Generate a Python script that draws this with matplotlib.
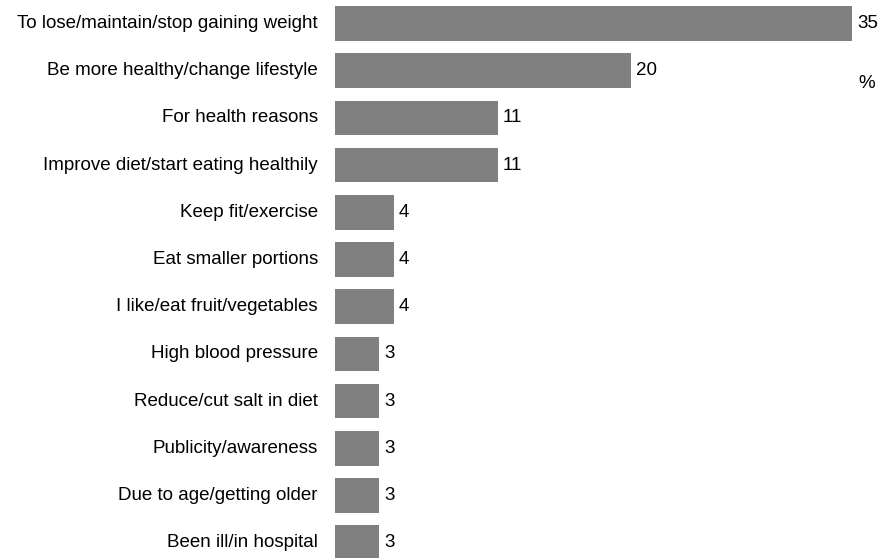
import matplotlib
matplotlib.use("Agg")
import matplotlib.pyplot as plt

plt.rcParams['font.family'] = ['Liberation Sans', 'DejaVu Sans']

categories = [
    "To lose/maintain/stop gaining weight",
    "Be more healthy/change lifestyle",
    "For health reasons",
    "Improve diet/start eating healthily",
    "Keep fit/exercise",
    "Eat smaller portions",
    "I like/eat fruit/vegetables",
    "High blood pressure",
    "Reduce/cut salt in diet",
    "Publicity/awareness",
    "Due to age/getting older",
    "Been ill/in hospital",
]
values = [35, 20, 11, 11, 4, 4, 4, 3, 3, 3, 3, 3]
unit_label = "%"

W, H = 881, 558
fig = plt.figure(figsize=(W / 100, H / 100), dpi=100)

left_px = 335
ax = fig.add_axes([left_px / W, 0, 1 - left_px / W, 1])
px_per_unit = 14.78
ax.set_xlim(0, (W - left_px) / px_per_unit)

spacing = 47.2
first_center = 23.5
top = -first_center / spacing
bottom = top + H / spacing
ax.set_ylim(bottom, top)

ypos = list(range(len(categories)))
ax.barh(ypos, values, height=34.5 / spacing, color="#808080", edgecolor="none")

fs = 13.5
for y, v, c in zip(ypos, values, categories):
    # value at the end of each bar
    ax.annotate(str(v), xy=(v, y), xycoords="data", xytext=(5, 0),
                textcoords="offset pixels", ha="left", va="center", fontsize=fs,
                annotation_clip=False)
    # category name to the left of the bar
    ax.annotate(c, xy=(0, y), xycoords="data", xytext=(-17, 0),
                textcoords="offset pixels", ha="right", va="center", fontsize=fs,
                annotation_clip=False)

ax.text(867 / W, 1 - 84 / H, unit_label, transform=fig.transFigure,
        ha="center", va="center", fontsize=fs)

ax.axis("off")
fig.savefig("out.png", dpi=100)
